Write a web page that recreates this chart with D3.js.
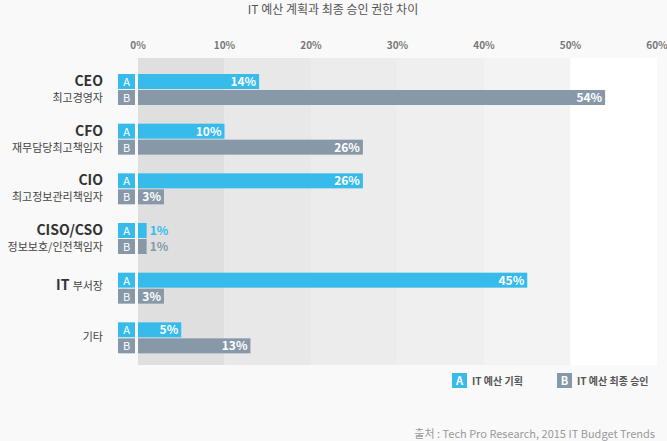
<!DOCTYPE html>
<html><head><meta charset="utf-8">
<script src="https://cdn.jsdelivr.net/npm/d3@7"></script>
<style>body{margin:0;background:#f9f9f9;font-family:"Noto Sans CJK KR","Noto Sans",sans-serif}</style>
</head><body><div class="chart"></div>
<script>
var roles = ['CEO', 'CFO', 'CIO', 'CISO/CSO', 'IT', '기타'];
var roleSubs = ['최고경영자', '재무담당최고책임자', '최고정보관리책임자', '정보보호/인전책임자', '부서장', ''];
var planA = [14, 10, 26, 1, 45, 5];
var approvalB = [54, 26, 3, 1, 3, 13];
var ticks = [0, 10, 20, 30, 40, 50, 60];
var bandColors = ['#dfdfdf', '#e8e8e8', '#ececec', '#efefef', '#f3f3f3', '#ffffff'];

var width = 667, height = 441;
var blue = '#36bbea', grey = '#8799a9';

var svg = d3.select('.chart').append('svg')
  .attr('width', width).attr('height', height);

var x = d3.scaleLinear().domain([0, 60]).range([138, 657]);
var y = d3.scaleBand().domain(d3.range(roles.length)).range([66, 364]);

svg.append('text').attr('x', 333).attr('y', 14).attr('text-anchor', 'middle')
  .attr('font-size', 12).attr('fill', '#555').text('IT 예산 계획과 최종 승인 권한 차이');

// bands
svg.selectAll('.band').data(ticks.slice(0, -1)).enter().append('rect')
  .attr('x', function (d) { return x(d); }).attr('y', 58)
  .attr('width', function (d) { return x(d + 10) - x(d); }).attr('height', 307)
  .attr('fill', function (d, i) { return bandColors[i]; });

svg.selectAll('.tick').data(ticks).enter().append('text')
  .attr('x', function (d) { return x(d); }).attr('y', 49)
  .attr('text-anchor', 'middle').attr('font-size', 10).attr('font-weight', 'bold')
  .attr('fill', '#777').text(function (d) { return d + '%'; });

var g = svg.selectAll('.row').data(roles).enter().append('g')
  .attr('transform', function (d, i) { return 'translate(0,' + (y(i) + 8) + ')'; });

function drawBar(vals, dy, color, letter) {
  g.append('rect').attr('x', 118).attr('y', dy).attr('width', 17).attr('height', 15).attr('fill', color);
  g.append('text').attr('x', 126.5).attr('y', dy + 12).attr('text-anchor', 'middle')
    .attr('font-size', 11).attr('fill', '#fff').text(letter);
  g.append('rect').attr('x', x(0)).attr('y', dy)
    .attr('width', function (d, i) { return x(vals[i]) - x(0); }).attr('height', 15).attr('fill', color);
  g.append('text')
    .attr('x', function (d, i) { return vals[i] < 3 ? x(vals[i]) + 3 : x(vals[i]) - 3; })
    .attr('y', dy + 12)
    .attr('text-anchor', function (d, i) { return vals[i] < 3 ? 'start' : 'end'; })
    .attr('font-size', 12).attr('font-weight', 'bold')
    .attr('fill', function (d, i) { return vals[i] < 3 ? color : '#fff'; })
    .text(function (d, i) { return vals[i] + '%'; });
}
drawBar(planA, 0, blue, 'A');
drawBar(approvalB, 16, grey, 'B');

g.each(function (d, i) {
  var sel = d3.select(this);
  if (d === 'IT') {
    var t = sel.append('text').attr('x', 103).attr('y', 17).attr('text-anchor', 'end').attr('fill', '#333');
    t.append('tspan').attr('font-size', 14).attr('font-weight', 'bold').text('IT ');
    t.append('tspan').attr('font-size', 11).attr('fill', '#444').text(roleSubs[i]);
  } else if (roleSubs[i] === '') {
    sel.append('text').attr('x', 103).attr('y', 19).attr('text-anchor', 'end')
      .attr('font-size', 11).attr('fill', '#444').text(d);
  } else {
    sel.append('text').attr('x', 103).attr('y', 12).attr('text-anchor', 'end')
      .attr('font-size', 14).attr('font-weight', 'bold').attr('fill', '#333').text(d);
    sel.append('text').attr('x', 103).attr('y', 28).attr('text-anchor', 'end')
      .attr('font-size', 11).attr('fill', '#444').text(roleSubs[i]);
  }
});

// legend
var legend = [{ l: 'A', t: 'IT 예산 기획', c: blue, x: 452 }, { l: 'B', t: 'IT 예산 최종 승인', c: grey, x: 557 }];
var lg = svg.selectAll('.lg').data(legend).enter().append('g')
  .attr('transform', function (d) { return 'translate(' + d.x + ',373)'; });
lg.append('rect').attr('width', 15).attr('height', 15).attr('fill', function (d) { return d.c; });
lg.append('text').attr('x', 7.5).attr('y', 12).attr('text-anchor', 'middle').attr('font-size', 11)
  .attr('font-weight', 'bold').attr('fill', '#fff').text(function (d) { return d.l; });
lg.append('text').attr('x', 20).attr('y', 12).attr('font-size', 10).attr('font-weight', 'bold')
  .attr('fill', '#555').text(function (d) { return d.t; });

svg.append('text').attr('x', 655).attr('y', 438).attr('text-anchor', 'end')
  .attr('font-size', 11).attr('fill', '#999').text('출처 : Tech Pro Research, 2015 IT Budget Trends');
</script></body></html>
